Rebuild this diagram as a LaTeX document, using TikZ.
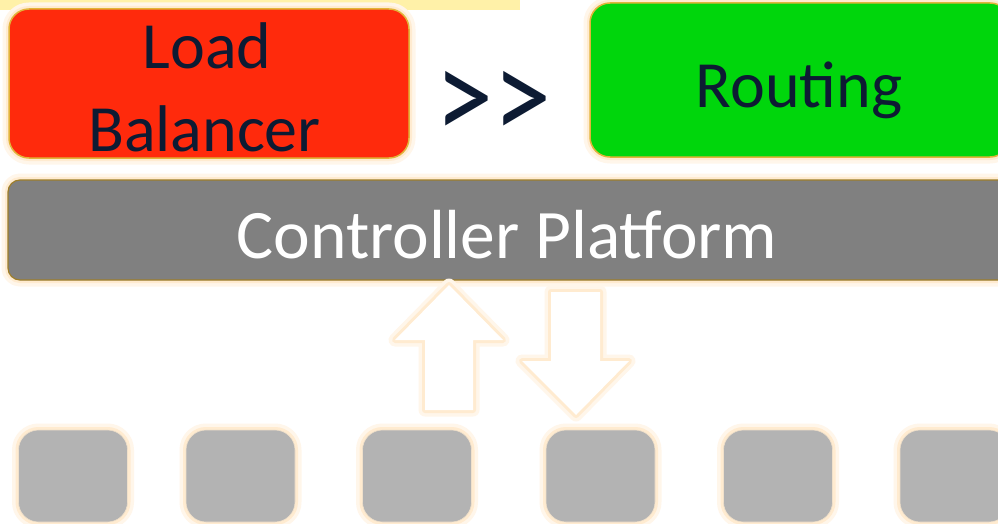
\documentclass[tikz,border=0pt]{standalone}
\usepackage{fontspec}
\setmainfont{Carlito}
\definecolor{lbred}{HTML}{FF2A0C}
\definecolor{rtgreen}{HTML}{00D60C}
\definecolor{platgray}{HTML}{808080}
\definecolor{swgray}{HTML}{B3B3B3}
\definecolor{goldline}{HTML}{E2B43A}
\definecolor{glowc}{HTML}{FFEBD0}
\definecolor{stripc}{HTML}{FFF1A8}
\definecolor{navy}{HTML}{0D1B33}
\tikzset{
  glowy/.style={preaction={draw=glowc!45!white, line width=13pt, line join=round},
                preaction={draw=glowc, line width=6pt, line join=round}},
  topbox/.style={glowy, draw=goldline, line width=1.5pt, rounded corners=20pt, inner sep=0pt},
  platbox/.style={glowy, draw=goldline!70!black, line width=1.2pt, fill=platgray, rounded corners=12pt, inner sep=0pt},
  swbox/.style={glowy, draw=glowc!80!swgray, line width=0.6pt, fill=swgray, rounded corners=20pt, inner sep=0pt,
                minimum width=109pt, minimum height=92pt},
  bigarrow/.style={glowy, fill=white},
  lbl/.style={font=\fontsize{66}{80}\selectfont, text=navy, inner sep=0pt, anchor=base},
}
\begin{document}
\begin{tikzpicture}[x=1pt,y=-1pt]
\useasboundingbox (0,0) rectangle (998,524);
\clip (0,0) rectangle (998,524);
\fill[white] (0,0) rectangle (998,524);
% top strips
\fill[stripc] (0,0) rectangle (520,10);
\fill[stripc] (783,0) rectangle (998,10);
% top boxes
\node[topbox, fill=lbred, minimum width=400pt, minimum height=149pt] (lb) at (209,83.5) {};
\node[topbox, fill=rtgreen, minimum width=420pt, minimum height=154pt] (rt) at (800,80) {};
\node[lbl] (lbt1) at (207,69) {Load};
\node[lbl] (lbt2) at (204.5,151) {Balancer};
\node[lbl] (rtt) at (799,108) {Routing};
\node[font=\fontsize{132}{132}\selectfont, text=navy, inner sep=0pt] (gg) at (493,106) {\scalebox{0.88}[1]{{>}{>}}};
% platform
\node[platbox, minimum width=1002pt, minimum height=100pt] (plat) at (509,230) {};
\node[lbl, text=white, font=\fontsize{69.5}{80}\selectfont] (platt) at (507,258) {Controller Platform};
% arrows
\path[bigarrow] (449,285) -- (503,340) -- (473,340) -- (473,410) -- (425,410) -- (425,340) -- (395,340) -- cycle;
\path[bigarrow] (551,292) -- (600,292) -- (600,361) -- (629,361) -- (576,415) -- (522,361) -- (551,361) -- cycle;
% switches
\node[swbox] (s1) at (73,476) {};
\node[swbox] (s2) at (240.5,476) {};
\node[swbox] (s3) at (417,476) {};
\node[swbox] (s4) at (600.5,476) {};
\node[swbox] (s5) at (778,476) {};
\node[swbox] (s6) at (954.5,476) {};
\end{tikzpicture}
\end{document}
